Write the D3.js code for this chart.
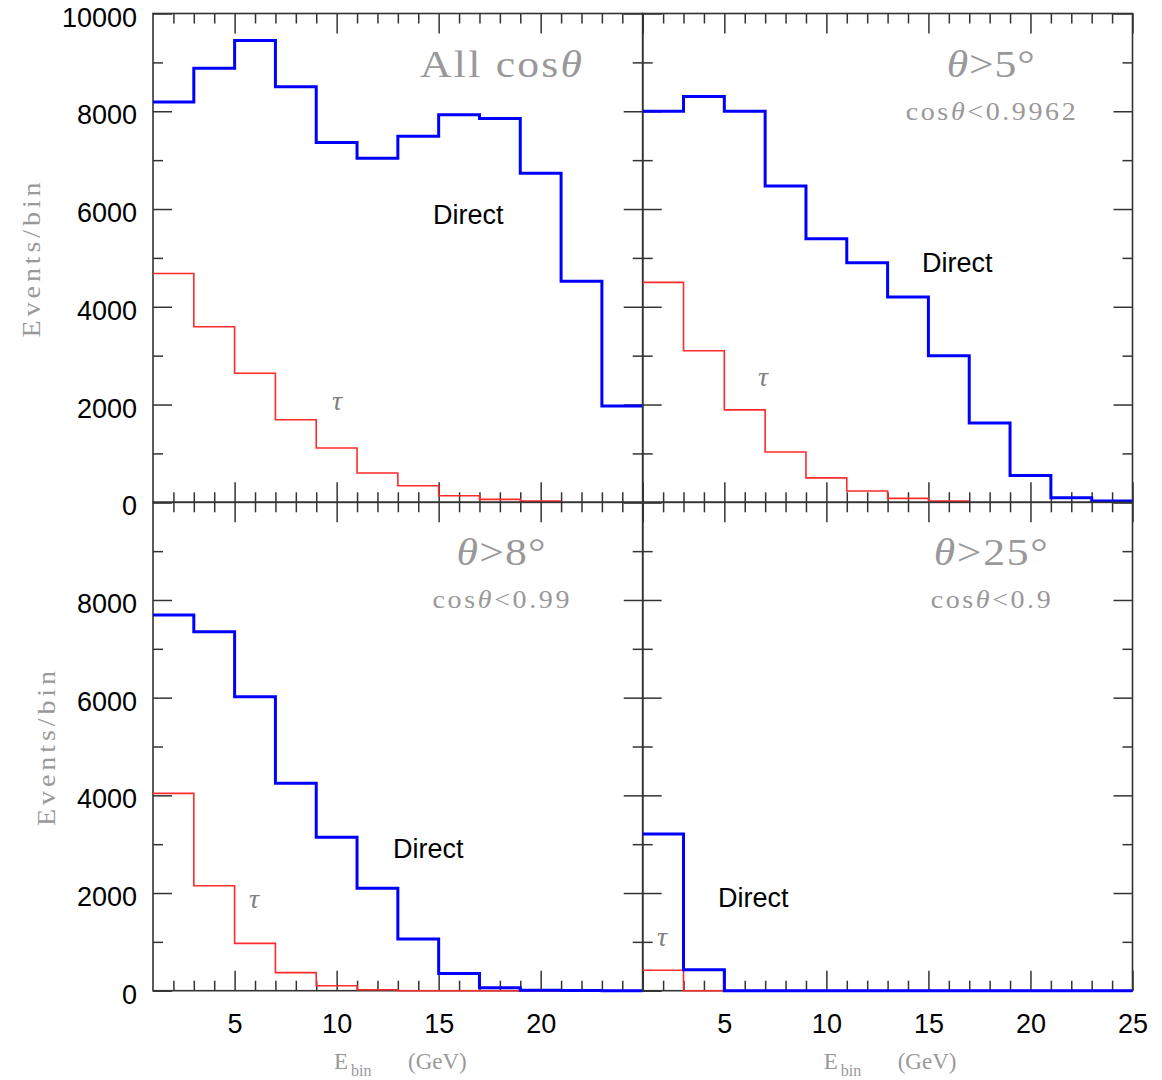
<!DOCTYPE html>
<html>
<head>
<meta charset="utf-8">
<script src="https://cdn.jsdelivr.net/npm/d3@7"></script>
<style>
body { margin: 0; background: #fff; }
.frame { fill: none; stroke: #333; stroke-width: 1.6; }
.tick line { stroke: #333; stroke-width: 1.5; }
.tick text { font-family: "Liberation Sans", Arial, sans-serif; font-size: 27px; fill: #000; }
.serif { font-family: "Liberation Serif", "Times New Roman", serif; fill: #999; }
</style>
</head>
<body>
<div id="chart"></div>
<script>
// bin edges in GeV (12 bins of 2 GeV)
var binEdges = [1, 3, 5, 7, 9, 11, 13, 15, 17, 19, 21, 23, 25];

// events per bin
var directAll = [8190, 8880, 9450, 8500, 7360, 7040, 7490, 7930, 7850, 6730, 4520, 1970];
var tauAll    = [4680, 3590, 2640, 1690, 1110, 600, 340, 135, 60, 25];
var direct5   = [8000, 8300, 8000, 6470, 5390, 4900, 4200, 3000, 1620, 550, 95, 25];
var tau5      = [4500, 3100, 1890, 1030, 500, 230, 80, 25];
var direct8   = [7690, 7350, 6020, 4250, 3140, 2100, 1060, 350, 60, 10, 5, 0];
var tau8      = [4040, 2150, 970, 370, 100, 20, 0, 0, 0, 0, 0, 0];
var direct25  = [3210, 430, 0, 0, 0, 0, 0, 0, 0, 0, 0, 0];
var tau25     = [420, 0, 0, 0, 0, 0, 0, 0, 0, 0, 0, 0];

var xMajor = [5, 10, 15, 20, 25];
var xMinor = d3.range(2, 25);
var yMajor = [0, 2000, 4000, 6000, 8000, 10000];
var yMinor = [1000, 3000, 5000, 7000, 9000];

var w = 1162, h = 1080;
var colX = [[153, 642.7], [642.7, 1132.5]];
var rowY = [[13.5, 502.3], [502.3, 990.7]];
var stretch = 1.12; // serif glyphs in the original are wider

var panels = [
    {col: 0, row: 0, direct: directAll, tau: tauAll, title: "All", sub: null,
     xLabels: [], yLabels: yMajor,
     dirPos: [433, 224], tauPos: [332, 410], titleLen: 162},
    {col: 1, row: 0, direct: direct5, tau: tau5, title: "5", sub: "0.9962",
     xLabels: [], yLabels: [],
     dirPos: [922, 272], tauPos: [758, 386], titleLen: 88, subLen: 170},
    {col: 0, row: 1, direct: direct8, tau: tau8, title: "8", sub: "0.99",
     xLabels: [5, 10, 15, 20], yLabels: [0, 2000, 4000, 6000, 8000],
     dirPos: [393, 858], tauPos: [249, 908], titleLen: 89, subLen: 137},
    {col: 1, row: 1, direct: direct25, tau: tau25, title: "25", sub: "0.9",
     xLabels: xMajor, yLabels: [],
     dirPos: [718, 907], tauPos: [657, 946], titleLen: 114, subLen: 120}
];

var svg = d3.select("#chart")
    .append("svg")
    .attr("width", w)
    .attr("height", h);

function stepPoints(vals) {
    var pts = vals.map(function(v, i) { return [binEdges[i], v]; });
    pts.push([binEdges[vals.length], vals[vals.length - 1]]);
    return pts;
}

// serif text, stretched horizontally around its anchor point
function serifText(g, x, y, size, len) {
    return g.append("text")
        .attr("class", "serif")
        .attr("transform", "translate(" + x + "," + y + ") scale(" + stretch + ",1)")
        .attr("text-anchor", "middle")
        .attr("textLength", len / stretch)
        .attr("lengthAdjust", "spacing")
        .style("font-size", size + "px");
}

panels.forEach(function(p) {
    var x0 = colX[p.col][0], x1 = colX[p.col][1];
    var y0 = rowY[p.row][0], y1 = rowY[p.row][1];

    var xScale = d3.scaleLinear().domain([1, 25]).range([x0, x1]);
    var yScale = d3.scaleLinear().domain([0, 10000]).range([y1, y0]);

    var g = svg.append("g");

    // ticks on all four sides, pointing inward
    function addAxis(axisFn, scale, vals, size, transform, labels, pad) {
        var ax = axisFn(scale).tickValues(vals).tickSizeInner(-size).tickSizeOuter(0)
            .tickPadding(pad || 3)
            .tickFormat(function(d) { return labels && labels.indexOf(d) >= 0 ? d : ""; });
        var a = g.append("g").attr("transform", transform).call(ax);
        a.select(".domain").remove();
        return a;
    }

    addAxis(d3.axisBottom, xScale, xMajor, 20, "translate(0," + y1 + ")", p.xLabels, 23);
    addAxis(d3.axisBottom, xScale, xMinor.filter(function(d) { return d % 5; }), 10, "translate(0," + y1 + ")");
    addAxis(d3.axisTop, xScale, xMajor, 20, "translate(0," + y0 + ")");
    addAxis(d3.axisTop, xScale, xMinor.filter(function(d) { return d % 5; }), 10, "translate(0," + y0 + ")");
    addAxis(d3.axisLeft, yScale, yMajor, 19, "translate(" + x0 + ",0)", p.yLabels, 16)
        .selectAll("text").attr("y", 4);
    addAxis(d3.axisLeft, yScale, yMinor, 10, "translate(" + x0 + ",0)");
    addAxis(d3.axisRight, yScale, yMajor, 19, "translate(" + x1 + ",0)");
    addAxis(d3.axisRight, yScale, yMinor, 10, "translate(" + x1 + ",0)");

    g.append("rect")
        .attr("class", "frame")
        .attr("x", x0).attr("y", y0)
        .attr("width", x1 - x0).attr("height", y1 - y0);

    var line = d3.line()
        .curve(d3.curveStepAfter)
        .x(function(d) { return xScale(d[0]); })
        .y(function(d) { return yScale(d[1]); });

    // tau histogram (thin red)
    g.append("path")
        .datum(stepPoints(p.tau))
        .attr("fill", "none")
        .attr("stroke", "#ff2a2a")
        .attr("stroke-width", 1.6)
        .attr("d", line);

    // direct histogram (thick blue)
    g.append("path")
        .datum(stepPoints(p.direct))
        .attr("fill", "none")
        .attr("stroke", "#0000ff")
        .attr("stroke-width", 3)
        .attr("d", line);

    // labels
    g.append("text")
        .attr("x", p.dirPos[0]).attr("y", p.dirPos[1])
        .style("font-family", "'Liberation Sans', Arial, sans-serif")
        .style("font-size", "27px")
        .text("Direct");

    g.append("text")
        .attr("class", "serif")
        .attr("x", p.tauPos[0]).attr("y", p.tauPos[1])
        .style("font-size", "28px")
        .style("font-style", "italic")
        .style("fill", "#808080")
        .text("τ");

    var cx = x0 + 348;
    var t = serifText(g, cx, y0 + 63, 39, p.titleLen);
    if (p.sub === null) {
        t.append("tspan").text("All  cos");
        t.append("tspan").style("font-style", "italic").text("θ");
    } else {
        t.append("tspan").style("font-style", "italic").text("θ");
        t.append("tspan").text(">" + p.title + "°");
        var s = serifText(g, cx, y0 + 106, 25, p.subLen);
        s.append("tspan").text("cos");
        s.append("tspan").style("font-style", "italic").text("θ");
        s.append("tspan").text("<" + p.sub);
    }

    // axis titles
    if (p.col === 0) {
        var ty = (y0 + y1) / 2 + 2;
        var tx = p.row === 0 ? 40 : 55;
        g.append("text")
            .attr("class", "serif")
            .attr("transform", "translate(" + tx + "," + ty + ") rotate(-90) scale(" + stretch + ",1)")
            .attr("text-anchor", "middle")
            .attr("textLength", 155 / stretch)
            .attr("lengthAdjust", "spacing")
            .style("font-size", "25px")
            .text("Events/bin");
    }
    if (p.row === 1) {
        var e = g.append("text")
            .attr("class", "serif")
            .attr("x", x0 + 181).attr("y", 1069)
            .style("font-size", "23px");
        e.append("tspan").text("E");
        e.append("tspan").attr("x", x0 + 198).attr("dy", 7).style("font-size", "16px").text("bin");
        e.append("tspan").attr("x", x0 + 255).attr("dy", -7).text("(GeV)");
    }
});
</script>
</body>
</html>
